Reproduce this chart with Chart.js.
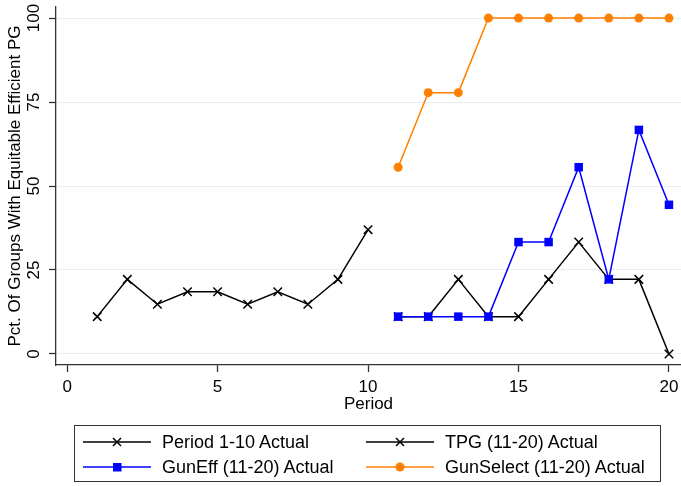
<!DOCTYPE html>
<html>
<head>
<meta charset="utf-8">
<script src="https://cdn.jsdelivr.net/npm/chart.js@4.4.0/dist/chart.umd.min.js"></script>
<style>
  html, body { margin: 0; padding: 0; background: #fff; }
  #wrap { position: relative; width: 681px; height: 486px; font-family: "Liberation Sans", Arial, sans-serif; }
  #c { position: absolute; left: 0; top: 0; }
  #legend { position: absolute; left: 74px; top: 425px; width: 587px; height: 57px; border: 1px solid #333; box-sizing: border-box; }
  .item { position: absolute; height: 24px; display: flex; align-items: center; font-size: 18px; color: #000; white-space: nowrap; }
  .item svg { margin-right: 11px; }
</style>
</head>
<body>
<div id="wrap">
  <canvas id="c" width="681" height="486"></canvas>
  <div id="legend"></div>
</div>
<script>
// ---- data ----
const periodsA = [1, 2, 3, 4, 5, 6, 7, 8, 9, 10];
const periodsB = [11, 12, 13, 14, 15, 16, 17, 18, 19, 20];
const period110Actual = [11.1, 22.2, 14.8, 18.5, 18.5, 14.8, 18.5, 14.8, 22.2, 37.0];
const tpgActual       = [11.1, 11.1, 22.2, 11.1, 11.1, 22.2, 33.3, 22.2, 22.2, 0.0];
const gunEffActual    = [11.1, 11.1, 11.1, 11.1, 33.3, 33.3, 55.6, 22.2, 66.7, 44.4];
const gunSelectActual = [55.6, 77.8, 77.8, 100, 100, 100, 100, 100, 100, 100];
const xTicks = [0, 5, 10, 15, 20];
const yTicks = [0, 25, 50, 75, 100];
const seriesNames = ["Period 1-10 Actual", "TPG (11-20) Actual", "GunEff (11-20) Actual", "GunSelect (11-20) Actual"];

const FONT = "'Liberation Sans', Arial, sans-serif";
const pts = (xs, ys) => xs.map((x, i) => ({ x: x, y: ys[i] }));

const datasets = [
  { label: seriesNames[0], data: pts(periodsA, period110Actual), borderColor: '#000', backgroundColor: '#000',
    pointStyle: 'crossRot', pointRadius: 6, borderWidth: 1.5, pointBorderWidth: 1.5, order: 3 },
  { label: seriesNames[1], data: pts(periodsB, tpgActual), borderColor: '#000', backgroundColor: '#000',
    pointStyle: 'crossRot', pointRadius: 6, borderWidth: 1.5, pointBorderWidth: 1.5, order: 2 },
  { label: seriesNames[2], data: pts(periodsB, gunEffActual), borderColor: '#0000ff', backgroundColor: '#0000ff',
    pointStyle: 'rect', pointRadius: 6, borderWidth: 1.5, pointBorderWidth: 0, order: 1 },
  { label: seriesNames[3], data: pts(periodsB, gunSelectActual), borderColor: '#ff7f00', backgroundColor: '#ff7f00',
    pointStyle: 'circle', pointRadius: 4.5, borderWidth: 1.5, pointBorderWidth: 0, order: 0 }
];

function zeroPad(s) { s.paddingTop = 0; s.paddingBottom = 0; s.paddingLeft = 0; s.paddingRight = 0; }

new Chart(document.getElementById('c'), {
  type: 'line',
  data: { datasets: datasets },
  options: {
    responsive: false,
    animation: false,
    events: [],
    layout: { autoPadding: false, padding: { left: 0, right: 0, top: 7, bottom: 71 } },
    plugins: { legend: { display: false }, tooltip: { enabled: false } },
    elements: { line: { tension: 0 } },
    scales: {
      x: {
        type: 'linear', min: -0.37, max: 20.4,
        afterBuildTicks: s => { s.ticks = xTicks.map(v => ({ value: v })); },
        afterFit: s => { s.height = 50; zeroPad(s); },
        grid: { drawOnChartArea: false, drawTicks: true, tickLength: 7, tickColor: '#333', tickWidth: 1.3 },
        border: { display: true, color: '#333', width: 1.3 },
        ticks: { color: '#000', font: { family: FONT, size: 17 }, padding: 5, maxRotation: 0 },
        title: { display: true, text: 'Period', color: '#000', font: { family: FONT, size: 17 }, padding: { top: 0, bottom: 0 } }
      },
      y: {
        type: 'linear', min: -3.3, max: 103.3,
        afterBuildTicks: s => { s.ticks = yTicks.map(v => ({ value: v })); },
        afterFit: s => { s.width = 56; zeroPad(s); },
        grid: { color: '#e6eff1', lineWidth: 1, drawTicks: true, tickLength: 7, tickColor: '#333', tickWidth: 1.3 },
        border: { display: true, color: '#333', width: 1.3 },
        ticks: { color: '#000', font: { family: FONT, size: 17 }, padding: 1, minRotation: 90, maxRotation: 90, crossAlign: 'center' },
        title: { display: true, text: 'Pct. Of Groups With Equitable Efficient PG', color: '#000', font: { family: FONT, size: 17 }, padding: { top: 5, bottom: 0 } }
      }
    }
  }
});

// ---- HTML legend ----
function markerSvg(ds) {
  const c = ds.borderColor;
  let m = '';
  if (ds.pointStyle === 'crossRot') {
    m = `<path d="M30,6 L38,14 M38,6 L30,14" stroke="${c}" stroke-width="1.5"/>`;
  } else if (ds.pointStyle === 'rect') {
    m = `<rect x="30" y="6" width="8.5" height="8.5" fill="${c}"/>`;
  } else {
    m = `<circle cx="34" cy="10" r="4.5" fill="${c}"/>`;
  }
  return `<svg width="68" height="20" viewBox="0 0 68 20"><line x1="0" y1="10" x2="68" y2="10" stroke="${c}" stroke-width="1.5"/>${m}</svg>`;
}
const legend = document.getElementById('legend');
const slots = [
  { left: 8, top: 4 },   // Period 1-10
  { left: 291, top: 4 }, // TPG
  { left: 8, top: 29 },  // GunEff
  { left: 291, top: 29 } // GunSelect
];
datasets.forEach((ds, i) => {
  const d = document.createElement('div');
  d.className = 'item';
  d.style.left = slots[i].left + 'px';
  d.style.top = slots[i].top + 'px';
  d.innerHTML = markerSvg(ds) + '<span>' + ds.label + '</span>';
  legend.appendChild(d);
});
</script>
</body>
</html>
